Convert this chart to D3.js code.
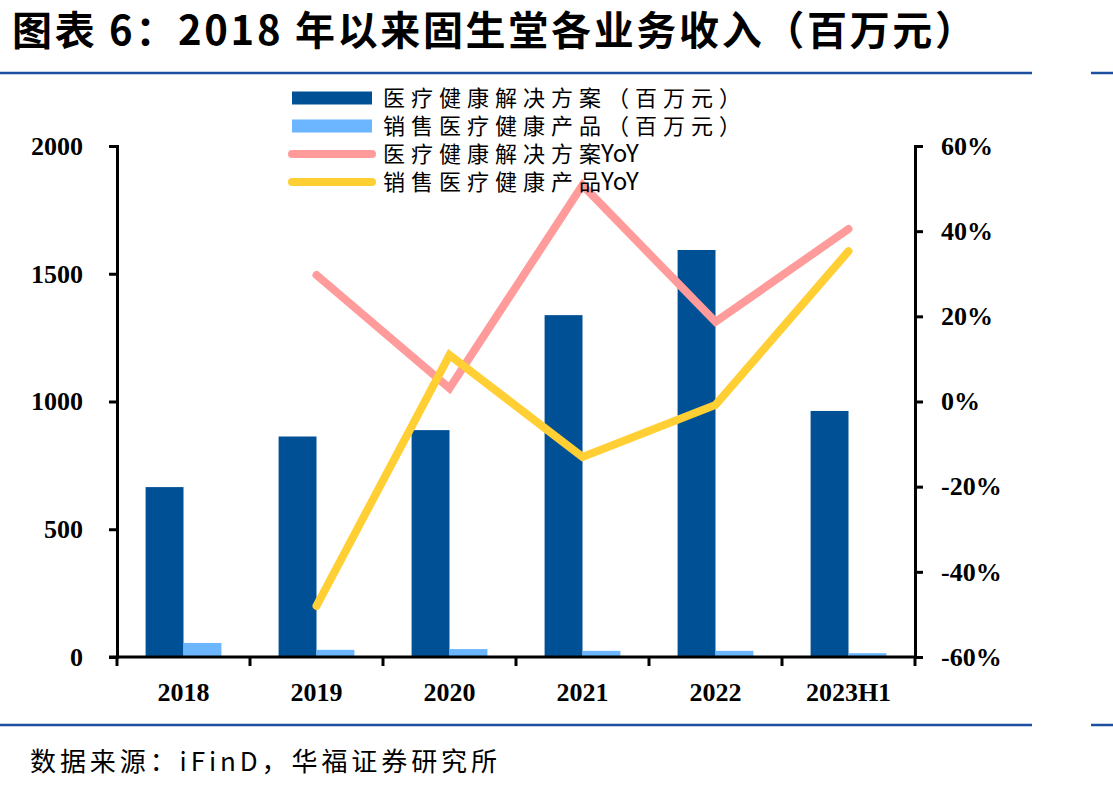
<!DOCTYPE html>
<html>
<head>
    <meta charset="utf-8">
    <title>固生堂各业务收入</title>
    <script src="https://d3js.org/d3.v7.min.js"></script>
    <style>
        body { margin: 0; background: #fff; }
    </style>
</head>
<body>
    <div id="vis"></div>
    <script>
        // data
        var years = ["2018", "2019", "2020", "2021", "2022", "2023H1"];
        var solutionRevenue = [665, 863, 888, 1338, 1593, 963];   // 医疗健康解决方案（百万元）
        var productRevenue = [55, 28, 31, 24, 24, 15];            // 销售医疗健康产品（百万元）
        var solutionYoY = [null, 0.297, 0.031, 0.508, 0.187, 0.405];
        var productYoY = [null, -0.48, 0.109, -0.13, -0.008, 0.353];
        var leftTicks = [0, 500, 1000, 1500, 2000];
        var rightTicks = [-0.6, -0.4, -0.2, 0, 0.2, 0.4, 0.6];
        var seriesNames = ["医疗健康解决方案（百万元）", "销售医疗健康产品（百万元）", "医疗健康解决方案YoY", "销售医疗健康产品YoY"];

        var W = 1113, H = 791;
        var plotLeft = 117, plotRight = 915, plotTop = 146, plotBottom = 657;
        var darkBlue = "#005096", lightBlue = "#6bb6ff", pink = "#ff9b9b", yellow = "#ffcf33";

        const svg = d3.select("#vis").append("svg")
            .attr("width", W)
            .attr("height", H);

        // title
        svg.append("text")
            .attr("x", 12)
            .attr("y", 45)
            .attr("textLength", 963)
            .attr("lengthAdjust", "spacing")
            .attr("font-family", "'Noto Sans CJK SC', sans-serif")
            .attr("font-weight", "bold")
            .attr("font-size", 40)
            .text("图表 6：2018 年以来固生堂各业务收入（百万元）");

        // blue rules
        [73, 725].forEach(function(y) {
            svg.append("line").attr("x1", 0).attr("x2", 1032).attr("y1", y).attr("y2", y)
                .attr("stroke", "#1c4f9f").attr("stroke-width", 2.5);
            svg.append("line").attr("x1", 1091).attr("x2", W).attr("y1", y).attr("y2", y)
                .attr("stroke", "#1c4f9f").attr("stroke-width", 2.5);
        });

        // scales
        var x = d3.scaleBand().domain(years).range([plotLeft, plotRight]);
        var groupWidth = x.bandwidth() * 0.57;
        var xSub = d3.scaleBand().domain(["a", "b"]).range([0, groupWidth]);
        var yLeft = d3.scaleLinear().domain([0, 2000]).range([plotBottom, plotTop]);
        var yRight = d3.scaleLinear().domain([-0.6, 0.6]).range([plotBottom, plotTop]);

        // bars
        var barOffset = (x.bandwidth() - groupWidth) / 2;
        svg.selectAll("rect.solution")
            .data(years)
            .enter()
            .append("rect")
            .attr("class", "solution")
            .attr("x", function(d) { return x(d) + barOffset + xSub("a"); })
            .attr("y", function(d, i) { return yLeft(solutionRevenue[i]); })
            .attr("width", xSub.bandwidth())
            .attr("height", function(d, i) { return plotBottom - yLeft(solutionRevenue[i]); })
            .attr("fill", darkBlue);
        svg.selectAll("rect.product")
            .data(years)
            .enter()
            .append("rect")
            .attr("class", "product")
            .attr("x", function(d) { return x(d) + barOffset + xSub("b"); })
            .attr("y", function(d, i) { return yLeft(productRevenue[i]); })
            .attr("width", xSub.bandwidth())
            .attr("height", function(d, i) { return plotBottom - yLeft(productRevenue[i]); })
            .attr("fill", lightBlue);

        // YoY lines
        var line = d3.line()
            .defined(function(d) { return d.v !== null; })
            .x(function(d) { return x(d.c) + x.bandwidth() / 2; })
            .y(function(d) { return yRight(d.v); });
        [[solutionYoY, pink], [productYoY, yellow]].forEach(function(s) {
            svg.append("path")
                .datum(years.map(function(c, i) { return {c: c, v: s[0][i]}; }))
                .attr("d", line)
                .attr("fill", "none")
                .attr("stroke", s[1])
                .attr("stroke-width", 8)
                .attr("stroke-linecap", "round")
                .attr("stroke-linejoin", "miter");
        });

        // axes
        var tickFont = "'Liberation Serif', 'Times New Roman', serif";
        var pct = function(d) { return Math.round(d * 100) + "%"; };
        var gl = svg.append("g")
            .attr("transform", "translate(" + plotLeft + ",0)")
            .call(d3.axisLeft(yLeft).tickValues(leftTicks).tickSize(8).tickPadding(26).tickFormat(d3.format("d")));
        var gr = svg.append("g")
            .attr("transform", "translate(" + plotRight + ",0)")
            .call(d3.axisRight(yRight).tickValues(rightTicks).tickSize(8).tickPadding(18).tickFormat(pct));
        var gb = svg.append("g")
            .attr("transform", "translate(0," + plotBottom + ")")
            .call(d3.axisBottom(x).tickValues([]).tickSizeOuter(0));
        gb.selectAll(".tick").remove();
        gb.selectAll("line.edge")
            .data(years.concat(["end"]))
            .enter()
            .append("line")
            .attr("class", "edge")
            .attr("x1", function(d, i) { return i < years.length ? x(d) : plotRight; })
            .attr("x2", function(d, i) { return i < years.length ? x(d) : plotRight; })
            .attr("y1", 0)
            .attr("y2", 9)
            .attr("stroke", "#000")
            .attr("stroke-width", 3);
        gb.selectAll("text.cat")
            .data(years)
            .enter()
            .append("text")
            .attr("class", "cat")
            .attr("x", function(d) { return x(d) + x.bandwidth() / 2; })
            .attr("y", 44)
            .attr("text-anchor", "middle")
            .text(function(d) { return d; });

        [gl, gr, gb].forEach(function(g) {
            g.select(".domain").attr("stroke", "#000").attr("stroke-width", 3);
            g.selectAll(".tick line").attr("stroke", "#000").attr("stroke-width", 3);
            g.selectAll("text")
                .attr("fill", "#000")
                .attr("font-family", tickFont)
                .attr("font-weight", "bold")
                .attr("font-size", 26);
        });
        gb.select(".domain").attr("d", "M" + (plotLeft - 8) + ",0H" + plotRight);

        // legend
        var legend = svg.append("g");
        seriesNames.forEach(function(name, i) {
            var cy = 98 + i * 28;
            if (i < 2) {
                legend.append("rect")
                    .attr("x", 292).attr("y", cy - 6.5).attr("width", 80).attr("height", 13)
                    .attr("fill", i === 0 ? darkBlue : lightBlue);
            } else {
                legend.append("line")
                    .attr("x1", 292).attr("x2", 372).attr("y1", cy).attr("y2", cy)
                    .attr("stroke", i === 2 ? pink : yellow)
                    .attr("stroke-width", 8)
                    .attr("stroke-linecap", "round");
            }
            var t = legend.append("text")
                .attr("x", 383)
                .attr("y", cy)
                .attr("dy", "0.36em")
                .attr("font-family", "'Noto Sans CJK SC', sans-serif")
                .attr("font-size", 22)
                .attr("fill", "#000");
            var cjk = name.replace("YoY", "");
            t.append("tspan").attr("letter-spacing", 6).text(cjk);
            if (name.indexOf("YoY") >= 0) {
                t.append("tspan").attr("dx", -6).attr("letter-spacing", 0)
                    .attr("font-size", 24).text("YoY");
            }
        });

        // source
        svg.append("text")
            .attr("x", 30)
            .attr("y", 771)
            .attr("textLength", 467)
            .attr("lengthAdjust", "spacing")
            .attr("font-family", "'Noto Sans CJK SC', sans-serif")
            .attr("font-size", 26)
            .attr("fill", "#000")
            .text("数据来源：iFinD，华福证券研究所");
    </script>
</body>
</html>
